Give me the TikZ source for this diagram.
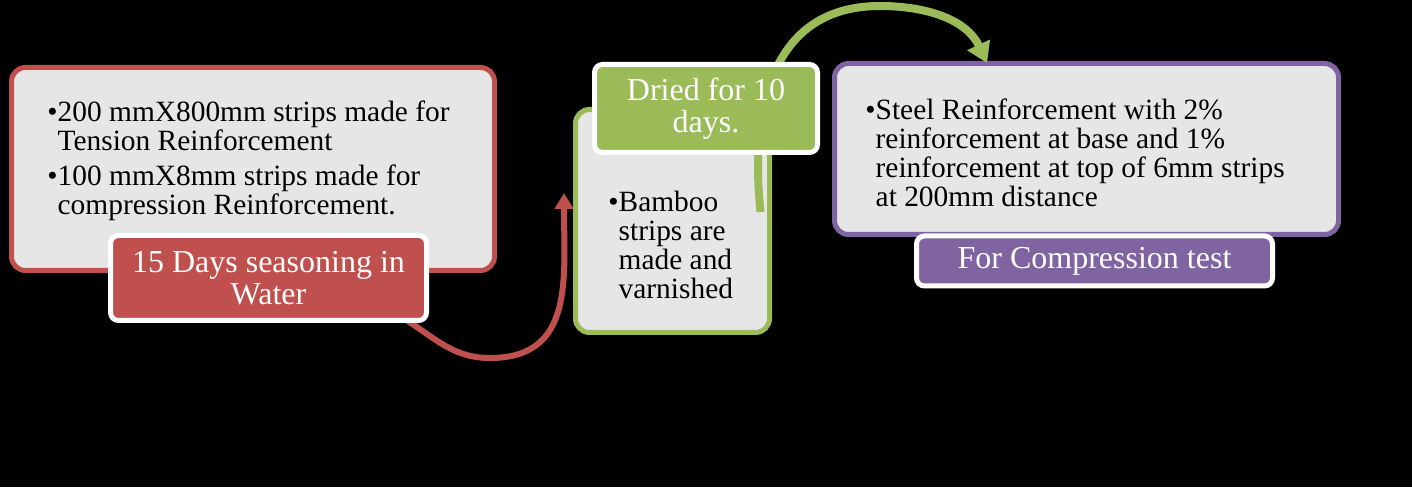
\documentclass[tikz,border=0pt]{standalone}
\usepackage{fontspec}
\setmainfont{Liberation Serif}
\usetikzlibrary{arrows.meta}
\definecolor{sared}{HTML}{C0504D}
\definecolor{sagreen}{HTML}{9BBB59}
\definecolor{sapurple}{HTML}{8064A2}
\definecolor{sagray}{HTML}{E6E6E6}
\tikzset{>={Triangle[width=9pt,length=8pt]}}
\tikzset{
  outerbox/.style={rectangle, draw=#1, fill=sagray, line width=2.5pt, rounded corners=7pt, inner sep=0pt},
  labelbox/.style={rectangle, draw=white, fill=#1, line width=2.5pt, rounded corners=4pt, text=white, align=center, inner sep=0pt, font=\fontsize{16}{16}\selectfont},
  bultext/.style={anchor=north west, inner sep=0pt, align=left, font=\fontsize{14.7}{14.3}\selectfont}
}
\newcommand\bitem[1]{\textbullet\begin{tabular}[t]{@{}l@{}}#1\end{tabular}}

\begin{document}
\begin{tikzpicture}[x=0.5pt, y=0.5pt]
        \useasboundingbox (0,0) rectangle (1412,487);
        \fill[black] (0,0) rectangle (1412,487);
        \node[outerbox=sared, minimum width=241.5pt, minimum height=101.5pt] (boxA) at (253,318) {};
        \node[outerbox=sagreen, minimum width=97pt, minimum height=111.5pt] (boxB) at (672.5,266) {};
        \node[outerbox=sapurple, minimum width=252pt, minimum height=85.5pt] (boxC) at (1086.5,338) {};
        \node[bultext] (txtA) at (47,387) {\bitem{200 mmX800mm strips made for\\Tension Reinforcement}\\[2pt]\bitem{100 mmX8mm strips made for\\compression Reinforcement.}};
        \node[bultext] (txtB) at (608,296) {\bitem{Bamboo\\strips are\\made and\\varnished}};
        \node[bultext] (txtC) at (865,389) {\bitem{Steel Reinforcement with 2\%\\reinforcement at base and 1\%\\reinforcement at top of 6mm strips\\at 200mm distance}};
        % arrows
        \coordinate (redlow) at (490,129);
        \coordinate (redtip) at (564,294);
        \coordinate (greentop) at (880,481);
        \coordinate (greentip) at (987,424);
        \draw[->, sared, line width=3pt] (398,172) to[out=-30,in=180] (redlow) to[out=0,in=-90,looseness=1.2] (redtip);
        \draw[-{Triangle[width=12pt,length=10pt]}, sagreen, line width=4pt] ([shift={(-11.5,9)}]boxB.east) to[out=96,in=180,looseness=1.15] (greentop) to[out=0,in=115] (greentip);
        % labels
        \node[labelbox=sared, minimum width=158pt, minimum height=42.5pt] (labA) at (268.5,209) {15 Days seasoning in\\Water};
        \node[labelbox=sagreen, minimum width=111.5pt, minimum height=44pt] (labB) at (706,378.5) {Dried for 10\\days.};
        \node[labelbox=sapurple, minimum width=178pt, minimum height=25pt] (labC) at (1094.5,226) {For Compression test};
      \end{tikzpicture}
\end{document}
